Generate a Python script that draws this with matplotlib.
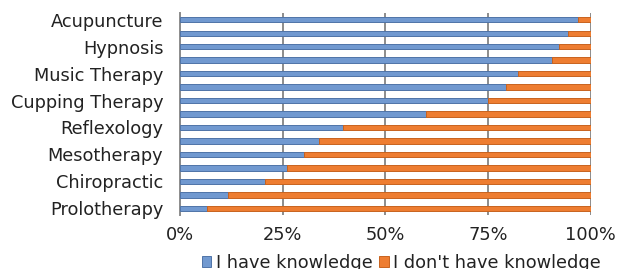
import matplotlib
matplotlib.use("Agg")
import matplotlib.pyplot as plt
import numpy as np

# Categories top to bottom (only every other label is shown in the original)
categories = ["Acupuncture", "", "Hypnosis", "", "Music Therapy", "",
              "Cupping Therapy", "", "Reflexology", "", "Mesotherapy", "",
              "Chiropractic", "", "Prolotherapy"]
have_knowledge = [97.0, 94.5, 92.3, 90.5, 82.2, 79.4, 74.9, 59.9,
                  39.6, 33.8, 30.1, 26.0, 20.8, 11.7, 6.5]
no_knowledge = [100 - v for v in have_knowledge]
series_names = ["I have knowledge", "I don't have knowledge"]
xtick_vals = [0, 25, 50, 75, 100]
xtick_labels = ["0%", "25%", "50%", "75%", "100%"]

plt.rcParams['font.family'] = ['DejaVu Sans']
fig = plt.figure(figsize=(6.2, 2.69), dpi=100)
ax = fig.add_axes([0.2903, 0.2007, 0.6624, 0.751])

y = np.arange(len(categories))
blue = "#7199d0"
orange = "#ee7d31"
ax.barh(y, have_knowledge, height=0.4, color=blue, edgecolor="#4f74a8",
        linewidth=0.7, label=series_names[0], zorder=3)
ax.barh(y, no_knowledge, left=have_knowledge, height=0.4, color=orange,
        edgecolor="#c8631f", linewidth=0.7, label=series_names[1], zorder=3)

ax.set_xlim(0, 100)
ax.set_ylim(len(categories) - 0.5, -0.5)
ax.set_xticks(xtick_vals)
ax.set_xticklabels(xtick_labels, fontsize=12.8, color="#222222")
ax.set_yticks(y)
ax.set_yticklabels(categories, fontsize=12.8, color="#222222")
ax.tick_params(axis='y', length=0, pad=12)
ax.tick_params(axis='x', length=0, pad=8)
ax.grid(axis='x', color="#8c8c8c", linewidth=1.4, zorder=0)
for s in ["top", "right", "bottom"]:
    ax.spines[s].set_visible(False)
ax.spines["left"].set_color("#8c8c8c")
ax.spines["left"].set_linewidth(1.4)

leg = fig.legend(loc="center", bbox_to_anchor=(0.647, 0.022), ncol=2,
                 frameon=False, fontsize=12.8, handlelength=0.55,
                 handleheight=0.55, handletextpad=0.25, columnspacing=0.35)
for t in leg.get_texts():
    t.set_color("#222222")

fig.savefig("out.png", dpi=100)
